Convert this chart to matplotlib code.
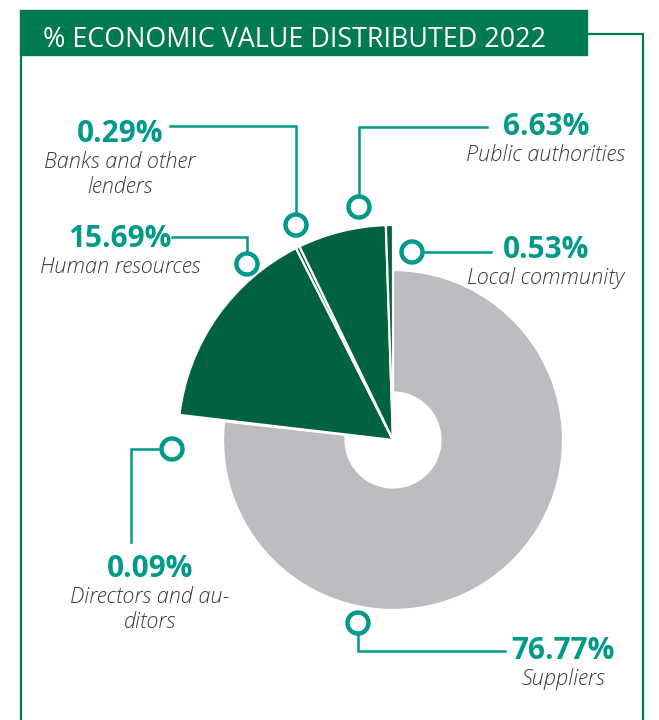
import matplotlib
matplotlib.use("Agg")
import matplotlib.pyplot as plt
from matplotlib.patches import Rectangle, Circle

W, H = 659, 720

# economic value distributed, share of total (clockwise from 12 o'clock)
categories = ["Suppliers", "Directors and au-\nditors", "Human resources",
              "Banks and other\nlenders", "Public authorities", "Local community"]
shares = [76.77, 0.09, 15.69, 0.29, 6.63, 0.53]
title = "% ECONOMIC VALUE DISTRIBUTED 2022"

GREEN = "#007a4f"
DARK = "#00623f"
GREY = "#bcbdc0"
TEAL = "#00998a"
TEXT = "#3a3a3a"

# callout layout in pixel coords (y measured from the top)
# (label centre x, number baseline y, path of the leader line, marker centre)
callouts = [
    (563, 659, [(505, 651), (358, 651), (358, 623)], (358, 623)),
    (150, 577, [(131, 542), (131, 449), (172, 449)], (172, 449)),
    (120, 247, [(172, 237), (247, 237), (247, 264)], (247, 264)),
    (120, 142, [(170, 126), (296, 126), (296, 225)], (296, 225)),
    (546, 135, [(487, 127), (359, 127), (359, 207)], (359, 207)),
    (546, 258, [(491, 252), (412, 252)], (412, 252)),
]


def fy(y):
    return H - y


def main():
    fig = plt.figure(figsize=(W / 100, H / 100), dpi=100)
    ax = fig.add_axes([0, 0, 1, 1])

    colors = [GREY] + [DARK] * (len(shares) - 1)
    wedges, _ = ax.pie(shares, startangle=90, counterclock=False,
                       center=(393, fy(440)), radius=215, colors=colors,
                       wedgeprops=dict(edgecolor="white", linewidth=1.6))
    # suppliers is drawn smaller and as a ring
    wedges[0].set_radius(170)
    wedges[0].set_width(170 - 47.5)

    ax.set_xlim(0, W)
    ax.set_ylim(0, H)
    ax.axis("off")

    # frame and title banner
    ax.plot([21, 21], [fy(50), fy(720)], color=GREEN, lw=1.6,
            solid_capstyle="butt")
    ax.plot([580, 643, 643], [fy(34), fy(34), fy(720)], color=GREEN, lw=1.6,
            solid_capstyle="butt", solid_joinstyle="miter")
    ax.add_patch(Rectangle((19.5, fy(55)), 567.5, 45, color=GREEN, zorder=3))
    ax.text(43, fy(47), title, color="white", fontsize=19.4,
            family="Open Sans", va="baseline", ha="left", zorder=4)

    for name, val, (cx, by, path, mark) in zip(categories, shares, callouts):
        xs = [p[0] for p in path]
        ys = [fy(p[1]) for p in path]
        ax.plot(xs, ys, color=TEAL, lw=1.8, solid_joinstyle="miter",
                zorder=4)
        ax.add_patch(Circle((mark[0], fy(mark[1])), 10.5, facecolor="white",
                            edgecolor=TEAL, lw=3.2, zorder=5))
        ax.text(cx, fy(by), f"{val:.2f}%", color=TEAL, fontsize=21.4,
                family="Open Sans", fontweight="bold", ha="center",
                va="baseline")
        for i, line in enumerate(name.split("\n")):
            ax.text(cx, fy(by + 26 + 25 * i), line, color=TEXT,
                    fontsize=15.6, family="Open Sans", fontstyle="italic",
                    fontweight="light", ha="center", va="baseline")

    fig.savefig("out.png", dpi=100)


if __name__ == "__main__":
    main()
